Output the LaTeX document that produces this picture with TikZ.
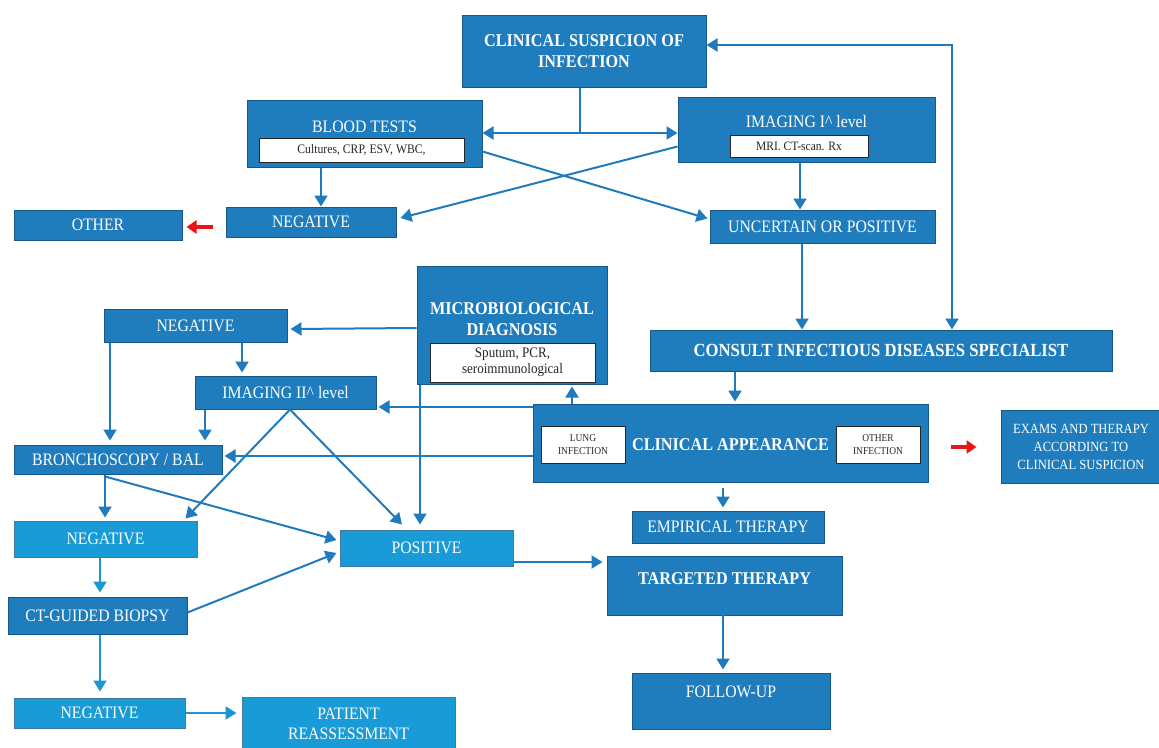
\documentclass[tikz,border=0pt]{standalone}
\usepackage{fontspec}
\setmainfont{Liberation Serif}[FakeStretch=0.9]
\usetikzlibrary{arrows.meta,calc}
\definecolor{dblue}{RGB}{31,125,190}
\definecolor{lblue}{RGB}{24,155,214}
\definecolor{bord}{RGB}{22,88,140}
\definecolor{arrc}{RGB}{31,122,190}
\definecolor{arrl}{RGB}{26,150,210}
\definecolor{rred}{RGB}{235,20,20}
\tikzset{
  dbox/.style={rectangle,draw=bord,line width=1pt,fill=dblue,inner sep=0pt,text=white,align=center,
    font=\fontsize{17.5}{20}\selectfont},
  lbox/.style={dbox,fill=lblue,draw=bord!80},
  wbox/.style={rectangle,draw=black!85,line width=0.8pt,fill=white,inner sep=0pt,text=black!85,align=center},
  btitle/.style={text=white,align=center,inner sep=0pt,font=\bfseries\fontsize{18}{21}\selectfont},
  rtitle/.style={text=white,align=center,inner sep=0pt,font=\fontsize{17.5}{20}\selectfont},
  arr/.style={draw=arrc,line width=2pt,-{Triangle[length=11pt,width=13pt]}},
  arrb/.style={draw=arrc,line width=2pt,{Triangle[length=11pt,width=13pt]}-{Triangle[length=11pt,width=13pt]}},
  arrlt/.style={arr,draw=arrl},
  redarr/.style={draw=rred,fill=rred,line width=4.5pt,-{Triangle[length=10pt,width=13pt]}},
  wd/.style={minimum width=#1},
  ht/.style={minimum height=#1}
}
\begin{document}
\begin{tikzpicture}[x=1pt,y=-1pt]
\useasboundingbox (0,0) rectangle (1159,747);
% boxes
\node[dbox,wd=244,ht=72] (cs) at (584,51) {};
\node[btitle] (cst) at (584,51) {CLINICAL SUSPICION OF\\INFECTION};
\node[dbox,wd=235,ht=67] (bt) at (364.5,133.5) {};
\node[rtitle] (btt) at (364.5,127) {BLOOD TESTS};
\node[wbox,wd=205,ht=24,font=\fontsize{13}{15}\selectfont] (btw) at (361.5,150) {Cultures, CRP, ESV, WBC,};
\node[dbox,wd=257,ht=65] (im1) at (806.5,129.5) {};
\node[rtitle] (im1t) at (806.5,122) {IMAGING I\^{} level};
\node[wbox,wd=138,ht=22,font=\fontsize{12.8}{15}\selectfont] (im1w) at (799,146) {MRI. CT-scan. Rx};
\node[dbox,wd=170,ht=30] (neg1) at (311,222) {NEGATIVE};
\node[dbox,wd=168,ht=30] (other) at (98,225) {OTHER};
\node[dbox,wd=225,ht=33] (unc) at (822.5,226.5) {UNCERTAIN OR POSITIVE};
\node[dbox,wd=462,ht=41,font=\bfseries\fontsize{18.5}{21}\selectfont] (consult) at (881,350.5) {CONSULT INFECTIOUS DISEASES SPECIALIST};
\node[dbox,wd=190,ht=118] (micro) at (512,325) {};
\node[btitle] (microt) at (512,319) {MICROBIOLOGICAL\\DIAGNOSIS};
\node[wbox,wd=165,ht=39,font=\fontsize{14.5}{15.5}\selectfont] (microw) at (512.5,362.5) {Sputum, PCR,\\seroimmunological};
\node[dbox,wd=183,ht=33] (neg2) at (195.5,325.5) {NEGATIVE};
\node[dbox,wd=181,ht=33] (im2) at (285.5,392.5) {IMAGING II\^{} level};
\node[dbox,wd=208,ht=29] (bronch) at (118,459.5) {BRONCHOSCOPY / BAL};
\node[dbox,wd=395,ht=78] (ca) at (730.5,443) {};
\node[btitle] (cat) at (730.5,444.5) {CLINICAL APPEARANCE};
\node[wbox,wd=84,ht=37,font=\fontsize{10.5}{13}\selectfont] (lung) at (583,444.5) {LUNG\\INFECTION};
\node[wbox,wd=84,ht=37,font=\fontsize{10.5}{13}\selectfont] (oth) at (878,444.5) {OTHER\\INFECTION};
\node[dbox,wd=160,ht=73,font=\fontsize{14}{18}\selectfont] (exams) at (1081,446.5) {EXAMS AND THERAPY\\ACCORDING TO\\CLINICAL SUSPICION};
\node[dbox,wd=192,ht=32] (emp) at (728,527) {EMPIRICAL THERAPY};
\node[lbox,wd=183,ht=36] (negL) at (105.5,539) {NEGATIVE};
\node[lbox,wd=173,ht=36] (pos) at (426.5,548) {POSITIVE};
\node[dbox,wd=179,ht=37] (ct) at (97.5,615.5) {CT-GUIDED BIOPSY};
\node[dbox,wd=235,ht=59] (targ) at (724.5,585.5) {};
\node[btitle] (targt) at (724.5,579) {TARGETED THERAPY};
\node[dbox,wd=198,ht=56] (fu) at (731,701) {};
\node[rtitle] (fut) at (731,692) {FOLLOW-UP};
\node[lbox,wd=171,ht=30] (negB) at (99.5,713) {NEGATIVE};
\node[lbox,wd=213,ht=56] (pr) at (348.5,725) {};
\node[rtitle] (prt) at (348.5,724) {PATIENT\\REASSESSMENT};
% connectors
\coordinate (j) at (580,133);
\draw[arrc,line width=2pt] ([xshift=-4pt]cs.south) -- (j);
\draw[arrb] (bt.east |- j) -- (im1.west |- j);
\draw[arr] ($(bt.south)+(-43.5,0)$) coordinate (a1) -- (a1 |- neg1.north);
\draw[arr] ($(bt.east)+(0,18)$) -- ($(unc.west)+(-2,-8)$);
\draw[arr] ($(im1.west)+(0,17)$) -- ($(neg1.east)+(4,-4)$);
\draw[arr] ($(im1.south)+(-6.5,0)$) coordinate (a2) -- (a2 |- unc.north);
\draw[arr] ($(unc.south)+(-20.5,0)$) coordinate (a3) -- (a3 |- consult.north);
\coordinate (lp) at (952,45);
\draw[arrb] (cs.east |- lp) -- (lp) -- (lp |- consult.north);
\draw[arr] ($(consult.south)+(-146,0)$) -- ($(ca.north)+(4.5,-2)$);
\draw[arr] ($(ca.north)+(-158.5,0)$) -- ($(micro.south)+(60,2)$);
\draw[arr] ($(ca.west)+(0,-36)$) -- ($(im2.east)+(2,14.5)$);
\draw[arr] ($(ca.west)+(0,13)$) -- ($(bronch.east)+(2,-3.5)$);
\draw[arr] ($(ca.south)+(-7.5,5)$) -- ($(emp.north)+(-5,-3)$);
\draw[arr] ($(micro.west)+(0,3)$) -- ($(neg2.east)+(3,3.5)$);
\draw[arr] ($(micro.south)+(-92,0)$) -- ($(pos.north)+(-6.5,-5)$);
\draw[arr] ($(neg2.south)+(46.5,0)$) -- ($(im2.north)+(-43.5,-3)$);
\draw[arr] ($(neg2.south)+(-85.5,0)$) -- ($(bronch.north)+(-8,-4)$);
\draw[arr] ($(im2.south)+(-80.5,0)$) -- ($(bronch.north)+(87,-4)$);
\draw[arr] ($(im2.south)+(4.5,0)$) -- ($(negL.north east)+(-12,-2)$);
\draw[arr] ($(im2.south)+(4.5,0)$) -- ($(pos.north)+(-24.5,-5)$);
\draw[arr] ($(bronch.south)+(-13,0)$) -- ($(negL.north)+(-0.5,-3)$);
\draw[arr] ($(bronch.south)+(-13,2)$) -- ($(pos.west)+(-3,-8)$);
\draw[arrlt] ($(negL.south)+(-5.5,0)$) -- ($(ct.north)+(2.5,-4)$);
\draw[arr] ($(ct.east)+(0,-3)$) -- ($(pos.west)+(-3,5)$);
\draw[arrlt] ($(ct.south)+(2.5,0)$) -- ($(negB.north)+(0.5,-6)$);
\draw[arrlt] (negB.east) -- ($(pr.west)+(-5,-12)$);
\draw[arr] ($(pos.east)+(0,14)$) -- ($(targ.west)+(-4,-23.5)$);
\draw[arr] ($(targ.north)+(-1.5,39)$) -- ($(fu.north)+(-8,-3)$);
\draw[redarr] ($(neg1.west)+(-13,5)$) -- ($(other.east)+(4,2)$);
\draw[redarr] ($(ca.east)+(22,4)$) -- ($(exams.west)+(-24,0.5)$);
\end{tikzpicture}
\end{document}
